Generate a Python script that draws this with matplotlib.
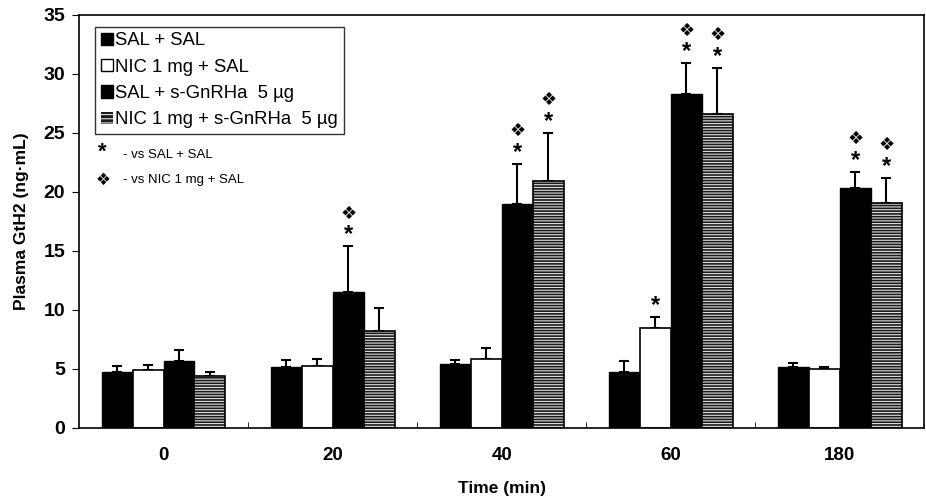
import matplotlib
matplotlib.use("Agg")
import matplotlib.pyplot as plt
import numpy as np
from matplotlib.patches import Patch

plt.rcParams['font.family'] = ['Liberation Sans', 'DejaVu Sans']
plt.rcParams['hatch.linewidth'] = 0.8

categories = ['0', '20', '40', '60', '180']
series_names = ['SAL + SAL', 'NIC 1 mg + SAL', 'SAL + s-GnRHa  5 µg', 'NIC 1 mg + s-GnRHa  5 µg']
means = [
    [4.75, 5.2, 5.4, 4.75, 5.2],
    [4.9, 5.25, 5.85, 8.5, 5.0],
    [5.7, 11.5, 19.0, 28.3, 20.3],
    [4.4, 8.2, 20.9, 26.6, 19.1],
]
sems = [
    [0.5, 0.6, 0.4, 0.95, 0.3],
    [0.45, 0.6, 0.95, 0.9, 0.15],
    [0.9, 3.9, 3.4, 2.6, 1.4],
    [0.35, 2.0, 4.1, 3.9, 2.1],
]
# (series index, group index)
star_marks = [(2, 1), (2, 2), (3, 2), (1, 3), (2, 3), (3, 3), (2, 4), (3, 4)]
diamond_marks = [(2, 1), (2, 2), (3, 2), (2, 3), (3, 3), (2, 4), (3, 4)]

fig = plt.figure(figsize=(9.26, 4.98), dpi=100)
ax = fig.add_axes([0.0853, 0.1406, 0.913, 0.8294])

x = np.arange(len(categories))
w = 0.183
offsets = (np.arange(4) - 1.5) * w

for i in range(4):
    xs = x + offsets[i]
    if i == 0 or i == 2:
        ax.bar(xs, means[i], w, color='black', edgecolor='black', linewidth=1, zorder=2)
    elif i == 1:
        ax.bar(xs, means[i], w, color='white', edgecolor='black', linewidth=1.2, zorder=2)
    else:
        ax.bar(xs, means[i], w, color='#1a1a1a', edgecolor='#e0e0e0', hatch='------', linewidth=0, zorder=2)
        ax.bar(xs, means[i], w, fill=False, edgecolor='black', linewidth=1.2, zorder=3)
    ax.errorbar(xs, means[i], yerr=[np.zeros(5), sems[i]], fmt='none', ecolor='black',
                elinewidth=1.5, capsize=3.5, capthick=1.5, zorder=1)

for (s, g) in star_marks:
    top = means[s][g] + sems[s][g]
    ax.annotate('*', (x[g] + offsets[s], top), xytext=(0, 0), textcoords='offset points',
                ha='center', va='bottom', fontsize=17, fontweight='bold')
for (s, g) in diamond_marks:
    top = means[s][g] + sems[s][g]
    ax.annotate('❖', (x[g] + offsets[s], top), xytext=(0, 17), textcoords='offset points',
                ha='center', va='bottom', fontsize=13, family=['DejaVu Sans'])

ax.set_xlim(-0.5, 4.5)
ax.set_ylim(0, 35)
ax.set_yticks(np.arange(0, 36, 5))
ax.set_xticks(x)
ax.set_xticklabels(categories, fontsize=13.5, fontweight='bold')
ax.tick_params(axis='x', length=0, pad=14)
ax.set_xticks(np.arange(0.5, 4.5, 1), minor=True)
ax.tick_params(axis='x', which='minor', direction='in', length=4)
ax.tick_params(axis='y', labelsize=14, direction='out', length=5, pad=5)
for lab in ax.get_yticklabels():
    lab.set_fontweight('bold')
for sp in ax.spines.values():
    sp.set_linewidth(1.2)

ax.set_ylabel('Plasma GtH2 (ng·mL)', fontsize=12.5, fontweight='bold', labelpad=10)
ax.set_xlabel('Time (min)', fontsize=12.5, fontweight='bold', labelpad=12)

handles = [
    Patch(facecolor='black', edgecolor='black'),
    Patch(facecolor='white', edgecolor='black'),
    Patch(facecolor='black', edgecolor='black'),
    Patch(facecolor='#1a1a1a', edgecolor='#e0e0e0', hatch='----', linewidth=0),
]
leg = ax.legend(handles, series_names, loc='upper left', bbox_to_anchor=(0.019, 0.971),
                fontsize=13.3, frameon=True, fancybox=False, edgecolor='black',
                handlelength=0.65, handleheight=0.65, handletextpad=0.15, borderpad=0.3,
                labelspacing=0.5, borderaxespad=0)
leg.get_frame().set_linewidth(1.0)

ax.text(0.028, 0.668, '*', transform=ax.transAxes, fontsize=16, fontweight='bold', ha='center', va='center')
ax.text(0.052, 0.661, '- vs SAL + SAL', transform=ax.transAxes, fontsize=9.5, ha='left', va='center')
ax.text(0.028, 0.600, '❖', transform=ax.transAxes, fontsize=12, ha='center', va='center', family=['DejaVu Sans'])
ax.text(0.052, 0.600, '- vs NIC 1 mg + SAL', transform=ax.transAxes, fontsize=9.5, ha='left', va='center')

fig.savefig('out.png', dpi=100)
